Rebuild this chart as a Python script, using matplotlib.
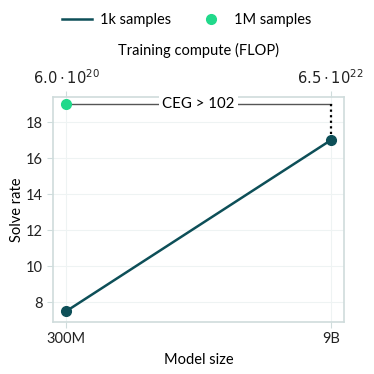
import matplotlib
matplotlib.use('Agg')
import matplotlib.pyplot as plt
from matplotlib.lines import Line2D

plt.rcParams['font.family'] = ['Lato', 'DejaVu Sans']

# datos
sizes = ['300M', '9B']
compute = [r'$6.0 \cdot 10^{20}$', r'$6.5 \cdot 10^{22}$']
solve_1k = [7.5, 17.0]
solve_1m = [19.0]
ceg_text = 'CEG > 102'

teal = '#0d4f58'
green = '#21d98b'
spine = '#cfdcdc'
grid = '#eef3f3'
fs = 10.5

fig = plt.figure(figsize=(3.74, 3.74), dpi=100)
ax = fig.add_axes([53/374, 52/374, 291/374, 225/374])

xs = list(range(len(sizes)))
ax.plot(xs, solve_1k, color=teal, lw=1.8, marker='o', ms=7, zorder=4)
ax.plot(xs[:1], solve_1m, color=green, lw=0, marker='o', ms=7, zorder=4)

# linea de anotacion
ax.plot([xs[0], xs[1]], [solve_1m[0], solve_1m[0]], color='#555555', lw=1.0, zorder=3)
ax.plot([xs[1], xs[1]], [solve_1m[0], solve_1k[1]], color='black', lw=1.6, ls=(0, (1, 1.5)), zorder=3)
ax.text(0.5, solve_1m[0], ceg_text, ha='center', va='center', fontsize=fs + 0.3,
        bbox=dict(facecolor='white', edgecolor='none', pad=2), zorder=5)

ax.set_xlim(-0.05, 1.05)
ax.set_ylim(6.9, 19.4)
ax.set_xticks(xs)
ax.set_xticklabels(sizes)
ax.set_yticks([8, 10, 12, 14, 16, 18])
ax.set_xlabel('Model size', fontsize=fs, labelpad=5)
ax.set_ylabel('Solve rate', fontsize=fs, labelpad=1)
ax.grid(True, color=grid, lw=0.8)
ax.set_axisbelow(True)
for s in ax.spines.values():
    s.set_color(spine)
    s.set_linewidth(1.2)
ax.tick_params(colors='#222222', labelsize=fs, length=4, color=spine)

ax2 = ax.twiny()
ax2.set_xlim(ax.get_xlim())
ax2.set_xticks(xs)
ax2.set_xticklabels(compute)
ax2.set_xlabel('Training compute (FLOP)', fontsize=fs, labelpad=9)
ax2.tick_params(colors='#222222', labelsize=10.6, length=4, color=spine)
for s in ax2.spines.values():
    s.set_visible(False)

handles = [Line2D([], [], color=teal, lw=1.8),
           Line2D([], [], color=green, lw=0, marker='o', ms=7)]
fig.legend(handles, ['1k samples', '1M samples'], loc='upper center', bbox_to_anchor=(0.5, 1.0),
           ncol=2, frameon=False, fontsize=fs, handlelength=2.0, handletextpad=0.6,
           columnspacing=1.7)

fig.savefig('out.png', dpi=100, facecolor='white')
